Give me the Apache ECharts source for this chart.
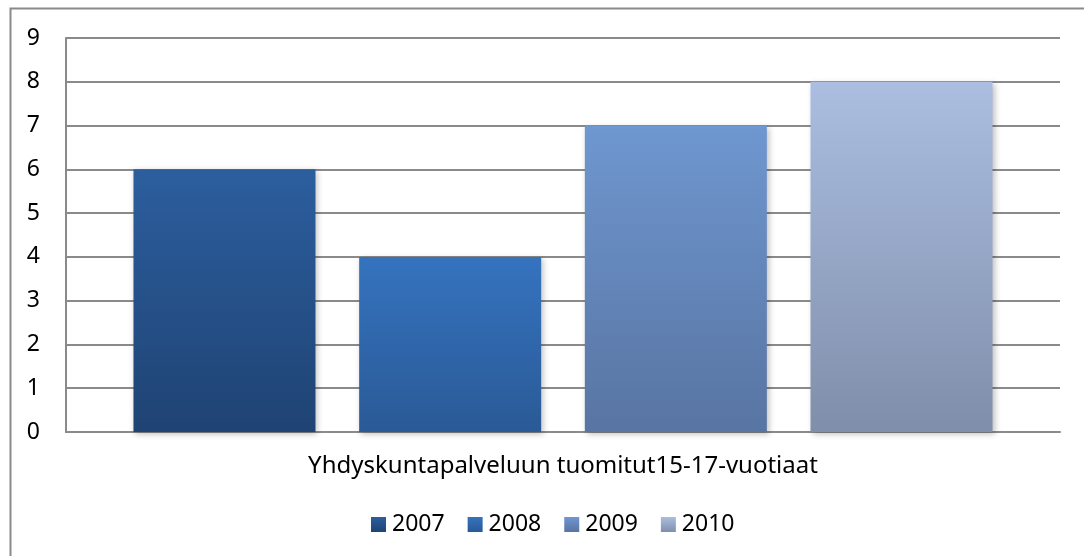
<!DOCTYPE html>
<html lang="en">
<head>
    <meta charset="UTF-8">
    <title>Yhdyskuntapalvelu</title>
    <style>
        *{
            margin:0;
            padding:0;
            box-sizing:border-box;
        }
        html, body{
            height:100%;
            width:100%;
            background:#fff;
        }
        #myChart{
            width:1084px;
            height:556px;
        }
    </style>
</head>
<body>
<div id="myChart"></div>
<script src="https://cdn.jsdelivr.net/npm/echarts@6/dist/echarts.min.js"></script>
<script>
    var categories = ['Yhdyskuntapalveluun tuomitut15-17-vuotiaat'];
    var years = ['2007', '2008', '2009', '2010'];
    var values2007 = [6];
    var values2008 = [4];
    var values2009 = [7];
    var values2010 = [8];
    var yTicks = [0, 1, 2, 3, 4, 5, 6, 7, 8, 9];

    // top / bottom of each bar's gradient
    var colors = [
        ['#2c5e9e', '#1f4373'],
        ['#3573bf', '#2a5a96'],
        ['#6f97d0', '#5874a2'],
        ['#abbee1', '#7f8eaa']
    ];
    var allValues = [values2007, values2008, values2009, values2010];

    function grad(c) {
        return new echarts.graphic.LinearGradient(0, 0, 0, 1, [
            {offset:0, color:c[0]},
            {offset:1, color:c[1]}
        ]);
    }

    var font = '"Noto Sans", "Open Sans", sans-serif';
    var series = years.map(function(y, i) {
        return {
            name:y,
            type:'bar',
            barWidth:182,
            barGap:'24%',
            data:allValues[i],
            itemStyle:{
                color:grad(colors[i]),
                shadowColor:'rgba(0,0,0,0.25)',
                shadowBlur:6,
                shadowOffsetX:2,
                shadowOffsetY:2
            }
        };
    });

    var myChart = echarts.init(document.getElementById('myChart'));
    var option = {
        animation:false,
        textStyle:{fontFamily:font},
        graphic:[{
            type:'rect',
            shape:{x:10.5, y:8.5, width:1200, height:700},
            style:{fill:'none', stroke:'#8a8a8a', lineWidth:2},
            silent:true
        }],
        grid:{
            left:66,
            right:24,
            top:38,
            bottom:124
        },
        legend:{
            data:years,
            left:366,
            top:508,
            itemWidth:15,
            itemHeight:15,
            itemGap:23,
            icon:'rect',
            textStyle:{fontSize:23, color:'#000', fontFamily:font, padding:[0, 0, 0, 1]}
        },
        xAxis:[{
            type:'category',
            data:categories,
            axisLine:{lineStyle:{color:'#8a8a8a', width:2}},
            axisTick:{show:false},
            axisLabel:{fontSize:24, color:'#000', margin:22, fontFamily:font}
        }],
        yAxis:[{
            type:'value',
            min:yTicks[0],
            max:yTicks[yTicks.length - 1],
            interval:1,
            axisLine:{show:true, lineStyle:{color:'#8a8a8a', width:2}},
            axisTick:{show:false},
            splitLine:{lineStyle:{color:'#8a8a8a', width:2}},
            axisLabel:{fontSize:23, color:'#000', margin:26, fontFamily:font}
        }],
        series:series
    };
    myChart.setOption(option);
</script>
</body>
</html>
